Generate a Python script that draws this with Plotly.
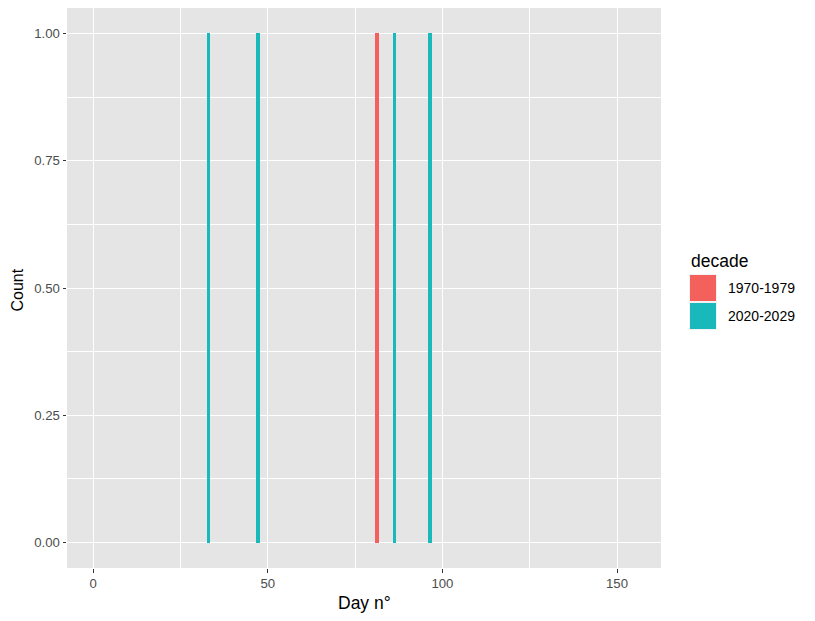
import plotly.graph_objects as go

# Data
decades = ["1970-1979", "2020-2029"]
colors = ["#F4605B", "#19B8BA"]
days_1970 = [81.2]
counts_1970 = [1]
days_2020 = [33.0, 47.3, 86.3, 96.5]
counts_2020 = [1, 1, 1, 1]
bin_width = 1.1

x_ticks = [0, 50, 100, 150]
y_ticks = [0, 0.25, 0.5, 0.75, 1.0]

W, H = 815, 621
L, R, T, B = 67, 661, 8, 568

fig = go.Figure()
for name, xs, ys, col in [(decades[0], days_1970, counts_1970, colors[0]),
                          (decades[1], days_2020, counts_2020, colors[1])]:
    fig.add_trace(go.Bar(x=xs, y=ys, width=[bin_width] * len(xs), name=name,
                         marker=dict(color=col, line=dict(width=0)), showlegend=False))

font_family = "Liberation Sans, Arial, sans-serif"
fig.update_layout(
    width=W, height=H,
    margin=dict(l=L, r=W - R, t=T, b=H - B, pad=0),
    paper_bgcolor="white",
    plot_bgcolor="#E5E5E5",
    font=dict(family=font_family, color="#4D4D4D"),
    bargap=0,
    xaxis=dict(range=[-7.5, 162.6], tickvals=x_ticks, ticktext=[str(v) for v in x_ticks],
               showgrid=True, gridcolor="white", gridwidth=1.4,
               minor=dict(dtick=25, tick0=0, showgrid=True, gridcolor="white", gridwidth=0.7, ticks=""),
               ticks="outside", ticklen=3.5, tickwidth=1, tickcolor="#333333",
               tickfont=dict(size=13.2, color="#4D4D4D"),
               zeroline=False, showline=False),
    yaxis=dict(range=[-0.05, 1.05], tickvals=y_ticks, ticktext=["%.2f" % v for v in y_ticks],
               showgrid=True, gridcolor="white", gridwidth=1.4,
               minor=dict(dtick=0.125, tick0=0, showgrid=True, gridcolor="white", gridwidth=0.7, ticks=""),
               ticks="outside", ticklen=3.5, tickwidth=1, tickcolor="#333333",
               tickfont=dict(size=13.2, color="#4D4D4D"),
               zeroline=False, showline=False),
)

def px_x(p):
    return (p - L) / (R - L)

def px_y(p):
    return (B - p) / (B - T)

# Axis titles
fig.add_annotation(x=0.5, y=px_y(603), xref="paper", yref="paper", text="Day n°",
                   showarrow=False, xanchor="center", yanchor="middle",
                   font=dict(size=17.5, color="black", family=font_family))
fig.add_annotation(x=px_x(16.5), y=px_y(290), xref="paper", yref="paper", text="Count",
                   showarrow=False, xanchor="center", yanchor="middle", textangle=-90,
                   font=dict(size=16, color="black", family=font_family))

# Legend (ggplot style)
fig.add_annotation(x=px_x(689), y=px_y(261), xref="paper", yref="paper", text="decade",
                   showarrow=False, xanchor="left", yanchor="middle",
                   font=dict(size=17.5, color="black", family=font_family))
keys = [(274, 302), (302, 330)]
for (y0, y1), col, name in zip(keys, colors, decades):
    fig.add_shape(type="rect", xref="paper", yref="paper",
                  x0=px_x(689), x1=px_x(717), y0=px_y(y1), y1=px_y(y0),
                  fillcolor="#F2F2F2", line=dict(width=0))
    fig.add_shape(type="rect", xref="paper", yref="paper",
                  x0=px_x(690), x1=px_x(716), y0=px_y(y1 - 1), y1=px_y(y0 + 1),
                  fillcolor=col, line=dict(width=0))
    fig.add_annotation(x=px_x(726), y=px_y((y0 + y1) / 2), xref="paper", yref="paper",
                       text=name, showarrow=False, xanchor="left", yanchor="middle",
                       font=dict(size=14, color="black", family=font_family))

fig.write_html("out.html")
